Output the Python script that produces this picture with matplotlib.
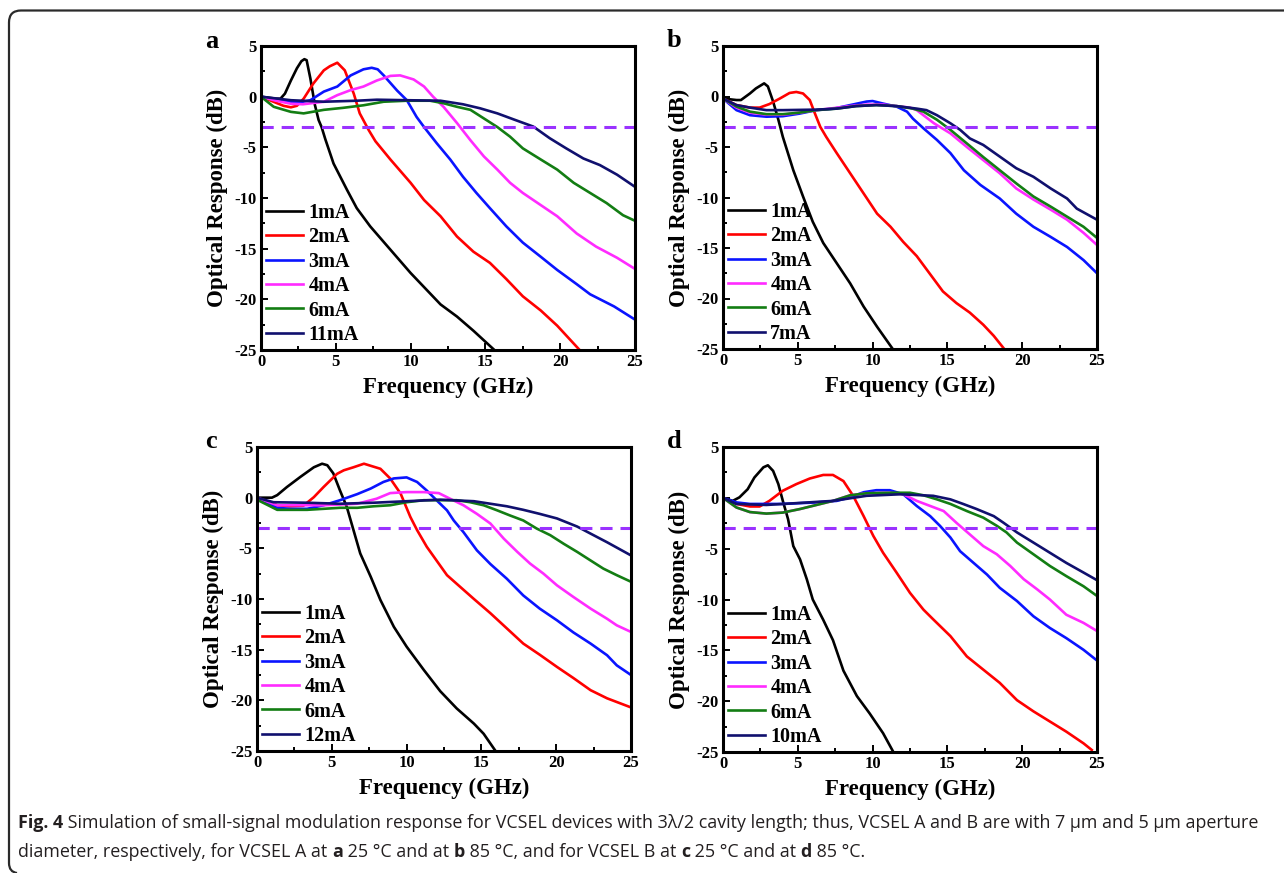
import matplotlib
matplotlib.use("Agg")
import matplotlib.pyplot as plt
from matplotlib.path import Path
from matplotlib.patches import PathPatch
from matplotlib.ticker import MultipleLocator

# curves: (frequency GHz, response dB)
a_1mA = [(0, 0), (0.5, -0.1), (1.0, -0.2), (1.3, -0.2), (1.6, 0.3), (2.0, 1.6), (2.4, 2.8), (2.7, 3.5), (2.9, 3.7),
         (3.05, 3.6), (3.3, 1.8), (3.6, -0.8), (3.85, -2.3), (4.05, -3.0), (4.3, -4.2), (4.85, -6.6), (5.75, -9.2),
         (6.4, -11.0), (7.3, -12.8), (8.65, -15.1), (10, -17.4), (12, -20.5), (13.1, -21.7), (14.2, -23.1), (15.6, -25)]
a_2mA = [(0, 0), (0.5, -0.3), (1.0, -0.6), (1.5, -0.9), (2.0, -1.05), (2.4, -0.9), (2.85, -0.2), (3.5, 1.3), (4.2, 2.6),
         (4.6, 3.0), (5.1, 3.35), (5.6, 2.6), (6.2, 0.3), (6.6, -1.65), (7.2, -3.3), (7.65, -4.4), (8.65, -6.2),
         (10, -8.5), (10.9, -10.2), (12, -11.8), (13.1, -13.8), (14.2, -15.3), (15.3, -16.4), (16.4, -18.0),
         (17.5, -19.7), (18.7, -21.1), (19.8, -22.6), (21.3, -25)]
a_3mA = [(0, 0), (1, -0.3), (2, -0.5), (2.8, -0.5), (3.3, -0.35), (4.2, 0.5), (5.1, 1.0), (6.0, 2.1), (6.85, 2.7),
         (7.4, 2.85), (7.8, 2.7), (8.2, 2.1), (9.1, 0.6), (9.75, -0.35), (10.4, -2.0), (10.9, -3.0), (11.75, -4.6),
         (12.65, -6.2), (13.5, -7.9), (14.4, -9.5), (15.3, -11.0), (16.4, -12.8), (17.5, -14.4), (18.7, -15.8),
         (19.8, -17.1), (21.1, -18.5), (22.0, -19.5), (23.6, -20.7), (25, -22.0)]
a_4mA = [(0, 0), (1, -0.4), (2, -0.7), (2.8, -0.75), (4.2, -0.5), (5.1, 0.15), (6.0, 0.65), (6.85, 1.0), (7.75, 1.6),
         (8.65, 2.05), (9.3, 2.1), (10.2, 1.7), (10.9, 1.0), (11.5, 0.0), (12.2, -1.0), (13.1, -2.6), (14.0, -4.3),
         (14.9, -5.9), (15.8, -7.2), (16.65, -8.5), (17.5, -9.5), (18.7, -10.7), (19.8, -11.8), (21.1, -13.5),
         (22.4, -14.8), (23.8, -15.9), (25, -17.0)]
a_6mA = [(0, 0), (0.85, -1.0), (2.0, -1.5), (2.85, -1.65), (4.2, -1.3), (5.5, -1.1), (6.85, -0.85), (8.2, -0.5),
         (9.75, -0.4), (11.3, -0.4), (12.2, -0.65), (13.1, -1.0), (14.0, -1.3), (14.9, -2.15), (15.8, -3.0),
         (16.65, -3.95), (17.5, -5.1), (18.7, -6.2), (19.8, -7.2), (20.9, -8.5), (22.0, -9.5), (23.1, -10.5),
         (24.2, -11.7), (25, -12.25)]
a_11mA = [(0, 0), (2, -0.35), (4.2, -0.5), (6.4, -0.4), (7.75, -0.3), (9.75, -0.35), (12, -0.4), (13.5, -0.75),
          (14.65, -1.15), (15.8, -1.65), (16.9, -2.25), (18.2, -2.95), (19.3, -4.1), (20.4, -5.1), (21.55, -6.1),
          (22.65, -6.75), (23.8, -7.7), (25, -8.9)]

b_1mA = [(0, -0.2), (0.9, -0.35), (1.2, -0.35), (1.8, 0.3), (2.2, 0.8), (2.75, 1.3), (3.0, 1.0), (3.35, -0.5),
         (3.7, -2.3), (4.0, -4.0), (4.7, -7.3), (5.35, -9.9), (6.0, -12.4), (6.7, -14.5), (7.6, -16.5), (8.5, -18.5),
         (9.4, -20.8), (10.3, -22.8), (11.3, -24.9)]
b_2mA = [(0, -0.2), (0.9, -0.85), (1.8, -1.1), (2.45, -1.1), (3.1, -0.75), (3.8, -0.2), (4.45, 0.35), (4.9, 0.45),
         (5.35, 0.3), (5.8, -0.35), (6.15, -1.7), (6.5, -3.0), (6.9, -4.0), (7.6, -5.6), (8.5, -7.6), (9.4, -9.6),
         (10.3, -11.6), (11.2, -12.9), (12.05, -14.4), (12.95, -15.8), (13.8, -17.5), (14.7, -19.3), (15.6, -20.45),
         (16.5, -21.4), (17.4, -22.6), (18.1, -23.7), (18.8, -25)]
b_3mA = [(0, -0.2), (0.9, -1.35), (1.8, -1.85), (2.9, -2.0), (4.0, -1.95), (5.1, -1.7), (6.25, -1.35), (7.4, -1.2),
         (8.5, -0.85), (9.6, -0.5), (10.0, -0.45), (10.7, -0.7), (11.6, -1.0), (12.3, -1.5), (12.7, -2.2),
         (13.4, -3.15), (14.3, -4.3), (15.2, -5.6), (16.1, -7.3), (17.2, -8.75), (18.5, -10.1), (19.6, -11.6),
         (20.75, -12.9), (21.9, -13.9), (23.0, -14.9), (24.1, -16.2), (25, -17.5)]
b_4mA = [(0, -0.2), (0.9, -1.1), (1.8, -1.6), (2.9, -1.8), (4.0, -1.8), (5.1, -1.6), (6.25, -1.35), (7.4, -1.15),
         (8.5, -0.95), (9.6, -0.8), (10.7, -0.8), (11.6, -0.95), (12.5, -1.1), (12.95, -1.35), (14.1, -2.65),
         (15.2, -3.65), (16.3, -5.0), (17.4, -6.3), (18.5, -7.6), (19.6, -9.1), (20.75, -10.2), (21.9, -11.2),
         (23.0, -12.2), (24.1, -13.5), (25, -14.7)]
b_6mA = [(0, -0.2), (0.9, -1.0), (1.8, -1.5), (2.9, -1.75), (4.0, -1.75), (5.1, -1.6), (6.25, -1.35), (7.6, -1.2),
         (8.9, -0.95), (10.25, -0.85), (11.6, -0.95), (12.7, -1.2), (13.4, -1.5), (14.3, -2.3), (15.2, -3.3),
         (16.3, -4.65), (17.4, -6.0), (18.5, -7.3), (19.6, -8.6), (20.75, -9.9), (21.9, -10.9), (23.0, -11.9),
         (24.1, -12.9), (25, -14.0)]
b_7mA = [(0, -0.2), (0.9, -0.85), (1.8, -1.1), (2.9, -1.35), (4.0, -1.35), (6.25, -1.3), (7.6, -1.2), (8.9, -0.95),
         (10.25, -0.85), (11.6, -0.95), (12.95, -1.2), (13.6, -1.35), (14.3, -1.85), (15.2, -2.65), (15.85, -3.3),
         (16.5, -4.15), (17.4, -4.8), (18.5, -5.95), (19.6, -7.1), (20.75, -7.95), (21.9, -9.1), (23.0, -10.1),
         (23.65, -11.1), (25, -12.2)]

c_1mA = [(0, 0), (1.0, 0), (1.35, 0.25), (2.0, 1.05), (2.9, 2.05), (3.8, 3.0), (4.35, 3.35), (4.7, 3.2), (5.1, 2.4),
         (5.55, 0.7), (6.0, -0.9), (6.45, -3.2), (6.9, -5.5), (7.6, -7.8), (8.25, -10.1), (9.15, -12.75), (10.0, -14.7),
         (11.15, -17.0), (12.25, -19.1), (13.35, -20.8), (14.5, -22.3), (15.15, -23.3), (15.9, -24.9)]
c_2mA = [(0, 0), (1.35, -0.75), (2.2, -0.85), (3.1, -0.8), (3.8, 0.05), (4.45, 1.05), (5.35, 2.35), (5.8, 2.7),
         (6.45, 3.0), (7.15, 3.35), (8.25, 2.85), (8.9, 1.9), (9.6, 0.4), (10.25, -1.9), (10.7, -3.2), (11.35, -4.85),
         (12.0, -6.2), (12.7, -7.65), (13.35, -8.5), (14.5, -10.0), (15.6, -11.4), (16.7, -12.9), (17.8, -14.4),
         (18.9, -15.5), (20.05, -16.7), (21.15, -17.8), (22.3, -19.0), (23.4, -19.8), (25, -20.7)]
c_3mA = [(0, 0), (1.35, -1.0), (2.2, -1.1), (3.35, -1.1), (4.45, -0.75), (5.55, -0.25), (6.7, 0.35), (7.6, 0.9),
         (8.45, 1.55), (9.15, 1.9), (10.0, 2.0), (10.7, 1.55), (11.35, 0.7), (12.0, -0.25), (12.7, -1.25),
         (13.15, -2.25), (13.8, -3.4), (14.7, -5.2), (15.6, -6.55), (16.7, -8.0), (17.8, -9.65), (18.9, -10.95),
         (20.05, -12.1), (21.15, -13.3), (22.3, -14.4), (23.4, -15.55), (24.05, -16.55), (25, -17.5)]
c_4mA = [(0, 0), (1.35, -0.75), (4.45, -0.75), (6.7, -0.6), (8.0, -0.1), (8.9, 0.45), (10.0, 0.55), (11.15, 0.55),
         (12.15, 0.45), (12.9, -0.1), (13.8, -0.75), (14.7, -1.6), (15.6, -2.55), (16.5, -4.05), (17.4, -5.35),
         (18.25, -6.5), (19.15, -7.5), (20.05, -8.65), (21.15, -9.8), (22.3, -10.95), (23.4, -11.95), (24.05, -12.6),
         (25, -13.25)]
c_6mA = [(0, -0.2), (1.35, -1.2), (3.35, -1.2), (4.45, -1.1), (5.55, -1.0), (6.7, -1.0), (7.8, -0.85), (8.9, -0.75),
         (10.0, -0.45), (11.15, -0.25), (13.35, -0.25), (14.25, -0.45), (15.15, -0.75), (16.05, -1.25), (16.9, -1.75),
         (17.8, -2.25), (18.7, -3.05), (19.6, -3.7), (20.5, -4.55), (21.4, -5.35), (22.3, -6.2), (23.15, -7.0),
         (24.05, -7.65), (25, -8.3)]
c_12mA = [(0, 0), (1.1, -0.45), (3.35, -0.5), (5.55, -0.6), (7.8, -0.5), (10.0, -0.35), (12.25, -0.2), (14.5, -0.35),
          (15.6, -0.6), (16.7, -0.85), (17.8, -1.2), (18.9, -1.6), (20.05, -2.05), (21.4, -2.85), (22.3, -3.55),
          (23.4, -4.4), (25, -5.7)]

d_1mA = [(0, 0), (0.65, -0.3), (1.1, 0.05), (1.65, 0.85), (2.1, 2.0), (2.7, 3.0), (3.0, 3.2), (3.35, 2.65), (3.7, 1.35),
         (4.0, -0.3), (4.35, -2.1), (4.7, -4.75), (5.15, -6.05), (5.6, -8.0), (6.0, -10.0), (6.7, -12.0),
         (7.35, -14.0), (8.05, -17.0), (8.95, -19.5), (9.8, -21.2), (10.7, -23.15), (11.35, -24.9)]
d_2mA = [(0, 0), (0.9, -0.6), (1.8, -0.85), (2.45, -0.85), (3.1, -0.3), (4.0, 0.7), (4.9, 1.35), (5.8, 1.9),
         (6.7, 2.25), (7.35, 2.25), (8.05, 1.65), (8.7, 0.2), (9.4, -1.8), (10.05, -3.75), (10.7, -5.4), (11.6, -7.35),
         (12.5, -9.35), (13.4, -11.0), (14.05, -11.95), (15.2, -13.6), (16.3, -15.6), (17.4, -16.9), (18.5, -18.2),
         (19.65, -19.9), (20.75, -21.0), (21.85, -22.0), (22.95, -23.0), (24.1, -24.15), (24.65, -24.8)]
d_3mA = [(0, 0), (0.9, -0.45), (1.8, -0.6), (4.0, -0.6), (6.25, -0.45), (7.6, -0.3), (8.5, 0.05), (9.4, 0.55),
         (10.25, 0.75), (11.15, 0.75), (12.05, 0.35), (12.95, -0.8), (13.85, -1.8), (14.5, -2.75), (15.2, -3.9),
         (15.85, -5.25), (16.75, -6.4), (17.65, -7.55), (18.5, -8.85), (19.65, -10.15), (20.75, -11.65),
         (21.85, -12.8), (22.95, -13.8), (24.1, -14.95), (25, -16.0)]
d_4mA = [(0, 0), (0.9, -0.95), (1.8, -1.4), (2.9, -1.55), (4.0, -1.45), (5.15, -1.1), (6.25, -0.7), (7.35, -0.3),
         (8.5, 0.25), (9.6, 0.45), (11.15, 0.5), (12.05, 0.35), (12.95, -0.3), (13.85, -0.8), (14.75, -1.3),
         (15.6, -2.45), (16.5, -3.6), (17.4, -4.75), (18.3, -5.55), (19.2, -6.7), (20.1, -8.0), (21.0, -9.0),
         (21.85, -10.0), (22.95, -11.5), (24.1, -12.3), (25, -13.1)]
d_6mA = [(0, 0), (0.9, -0.95), (1.8, -1.4), (2.9, -1.55), (4.0, -1.45), (5.15, -1.1), (6.25, -0.7), (7.35, -0.3),
         (8.5, 0.25), (9.6, 0.45), (11.15, 0.5), (12.5, 0.5), (13.4, 0.25), (14.3, -0.15), (15.2, -0.6), (16.3, -1.3),
         (17.4, -1.95), (18.3, -2.75), (18.95, -3.4), (19.65, -4.4), (20.75, -5.55), (21.85, -6.7), (22.95, -7.7),
         (24.1, -8.7), (25, -9.65)]
d_10mA = [(0, 0), (0.9, -0.6), (2.9, -0.7), (5.15, -0.5), (7.35, -0.3), (9.6, 0.2), (11.85, 0.35), (14.05, 0.2),
          (15.2, -0.15), (16.05, -0.6), (16.95, -1.1), (18.1, -1.8), (18.75, -2.45), (19.65, -3.4), (20.75, -4.4),
          (21.85, -5.4), (22.95, -6.4), (24.1, -7.35), (25, -8.1)]

labels_a = ["1mA", "2mA", "3mA", "4mA", "6mA", "11mA"]
labels_b = ["1mA", "2mA", "3mA", "4mA", "6mA", "7mA"]
labels_c = ["1mA", "2mA", "3mA", "4mA", "6mA", "12mA"]
labels_d = ["1mA", "2mA", "3mA", "4mA", "6mA", "10mA"]
colors = ["#000000", "#ff0000", "#0a14ff", "#ff2bff", "#137d13", "#10106e"]
cutoff_db = -3

W, H = 1284, 873
fig = plt.figure(figsize=(W / 100, H / 100), dpi=100)
serif = "Liberation Serif"
plt.rcParams["axes.unicode_minus"] = False


def px_axes(left, top, right, bottom):
    return fig.add_axes([left / W, 1 - bottom / H, (right - left) / W, (bottom - top) / H])


panels = [
    ("a", (261, 46, 635, 350), (205, 48), [a_1mA, a_2mA, a_3mA, a_4mA, a_6mA, a_11mA], labels_a),
    ("b", (723, 46, 1097, 349), (667, 47), [b_1mA, b_2mA, b_3mA, b_4mA, b_6mA, b_7mA], labels_b),
    ("c", (257, 447, 631, 751), (205, 448), [c_1mA, c_2mA, c_3mA, c_4mA, c_6mA, c_12mA], labels_c),
    ("d", (723, 447, 1097, 752), (667, 448), [d_1mA, d_2mA, d_3mA, d_4mA, d_6mA, d_10mA], labels_d),
]

for letter, box, lpos, curves, labels in panels:
    ax = px_axes(*box)
    for pts, lab, col in zip(curves, labels, colors):
        f = [p[0] for p in pts]
        y = [p[1] for p in pts]
        ax.plot(f, y, color=col, lw=1.9, label=lab, solid_joinstyle="round")
    ax.axhline(cutoff_db, color="#9a32ff", lw=2.2, ls=(0, (4, 2.6)))
    ax.set_xlim(0, 25)
    ax.set_ylim(-25, 5)
    ax.xaxis.set_major_locator(MultipleLocator(5))
    ax.xaxis.set_minor_locator(MultipleLocator(2.5))
    ax.yaxis.set_major_locator(MultipleLocator(5))
    ax.yaxis.set_minor_locator(MultipleLocator(2.5))
    ax.tick_params(which="both", direction="in", top=False, right=False, width=1.4)
    ax.tick_params(which="major", length=5, pad=3)
    ax.tick_params(which="minor", length=3)
    for t in ax.get_xticklabels() + ax.get_yticklabels():
        t.set_fontfamily(serif)
        t.set_fontweight("bold")
        t.set_fontsize(12)
    for s in ax.spines.values():
        s.set_linewidth(2.2)
    ax.set_xlabel("Frequency (GHz)", fontfamily=serif, fontweight="bold", fontsize=16.5, labelpad=5)
    ax.set_ylabel("Optical Response (dB)", fontfamily=serif, fontweight="bold", fontsize=16.5, labelpad=5)
    ax.legend(loc="lower left", frameon=False, prop=dict(family=serif, weight="bold", size=14.5),
              handlelength=1.85, handletextpad=0.25, labelspacing=0.22, borderpad=0, borderaxespad=0.25)
    fig.text(lpos[0] / W, 1 - lpos[1] / H, letter, fontfamily=serif, fontweight="bold", fontsize=19,
             ha="left", va="baseline")

# rounded frame around the figure (open on the right side)
fr = [(W, 10.5), (21, 10.5), (9, 10.5), (9, 22.5), (9, 863), (9, 872), (17, 873)]
codes = [Path.MOVETO, Path.LINETO, Path.CURVE3, Path.CURVE3, Path.LINETO, Path.CURVE3, Path.CURVE3]
fig.add_artist(PathPatch(Path([(x / W, 1 - y / H) for x, y in fr], codes), transform=fig.transFigure,
                         fill=False, lw=1.6, edgecolor="#2a2a2a"))

# caption with bold pieces
cap_font = ["Open Sans", "DejaVu Sans"]
line1 = [("Fig. 4", "bold"), (" Simulation of small-signal modulation response for VCSEL devices with 3λ/2 cavity "
                              "length; thus, VCSEL A and B are with 7 μm and 5 μm aperture", "normal")]
line2 = [("diameter, respectively, for VCSEL A at ", "normal"), ("a", "bold"), (" 25 °C and at ", "normal"),
         ("b", "bold"), (" 85 °C, and for VCSEL B at ", "normal"), ("c", "bold"), (" 25 °C and at ", "normal"),
         ("d", "bold"), (" 85 °C.", "normal")]
renderer = fig.canvas.get_renderer()


def draw_line(parts, x0, ybase, size):
    x = x0
    for s, w in parts:
        t = fig.text(x / W, 1 - ybase / H, s, fontfamily=cap_font, fontweight=w, fontsize=size,
                     color="#231f20", ha="left", va="baseline")
        x += t.get_window_extent(renderer).width
    return x


# fit the first line to the width it has in the original
probe = [fig.text(0, 0, s, fontfamily=cap_font, fontweight=w, fontsize=10) for s, w in line1]
wid = sum(t.get_window_extent(renderer).width for t in probe)
for t in probe:
    t.remove()
cap_size = 10 * (1262 - 18) / wid
draw_line(line1, 18, 828, cap_size)
draw_line(line2, 18, 857, cap_size)

fig.savefig("out.png", dpi=100)
